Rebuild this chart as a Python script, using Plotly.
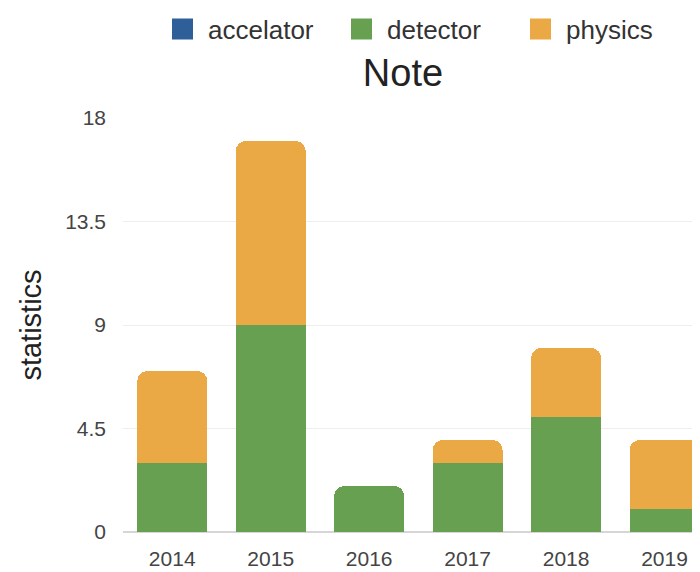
import plotly.graph_objects as go

years = ["2014", "2015", "2016", "2017", "2018", "2019"]
accelator = [0, 0, 0, 0, 0, 0]
detector = [3, 9, 2, 3, 5, 1]
physics = [4, 8, 0, 1, 3, 3]

colors = {"accelator": "#2f5f98", "detector": "#67a050", "physics": "#eaa944"}
series = [("accelator", accelator), ("detector", detector), ("physics", physics)]

fig = go.Figure()
for name, vals in series:
    fig.add_trace(go.Bar(x=years, y=vals, name=name, marker_color=colors[name],
                         marker_line_width=0, showlegend=False))
# legend entries with large square swatches
for name, vals in series:
    fig.add_trace(go.Scatter(x=[None], y=[None], mode="markers", name=name,
                             marker=dict(symbol="square", size=16, color=colors[name],
                                         line=dict(width=5, color=colors[name]))))

font = "Liberation Sans, Arial, Helvetica, sans-serif"
fig.update_layout(
    barmode="stack",
    bargap=0.29,
    barcornerradius=10,
    width=700, height=572,
    margin=dict(l=115, r=8, t=110, b=48),
    paper_bgcolor="white", plot_bgcolor="white",
    font=dict(family=font, color="#333333"),
    title=dict(text="Note", x=(403 - 8) / 700, xref="container", xanchor="center",
               y=1 - 65 / 572, yref="container", yanchor="middle",
               font=dict(size=38, color="#222222")),
    legend=dict(orientation="h", x=(157 - 8) / 700, xanchor="left", xref="container",
                y=1 - 21 / 572, yref="container", yanchor="middle",
                font=dict(size=26, color="#333333"), itemwidth=41,
                itemsizing="trace", traceorder="normal",
                entrywidth=123, entrywidthmode="pixels"),
    xaxis=dict(range=[-0.5, 5.36], showgrid=False, showline=False, zeroline=False,
               tickfont=dict(size=21, color="#444444"), ticks="",
               ticklabelstandoff=12),
    yaxis=dict(range=[0, 18], tickvals=[0, 4.5, 9, 13.5, 18],
               ticktext=["0", "4.5", "9", "13.5", "18"],
               showgrid=True, gridcolor="#eeeeee", gridwidth=1,
               zeroline=True, zerolinecolor="#d6d6d6", zerolinewidth=2,
               tickfont=dict(size=21, color="#444444"),
               ticklabelstandoff=16,
               title=dict(text="statistics", font=dict(size=29, color="#222222"),
                          standoff=14)),
)

fig.write_html("out.html")
